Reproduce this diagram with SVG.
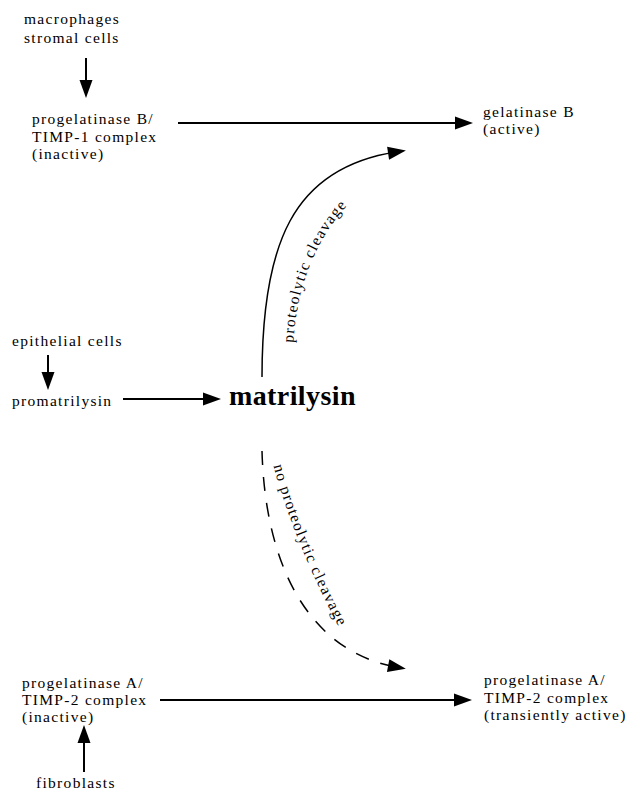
<svg xmlns="http://www.w3.org/2000/svg" width="628" height="794" viewBox="0 0 628 794">
<style>
text{font-family:"Liberation Serif","Times New Roman",serif;font-size:15.5px;letter-spacing:1.3px;fill:#000}
.big{font-size:28px;font-weight:bold;letter-spacing:0.4px}
.ln{fill:none;stroke:#000;stroke-width:2}
.cv{fill:none;stroke:#000;stroke-width:1.5}
.ds{stroke-dasharray:14 12}
</style>
<defs>
<marker id="ah" markerUnits="userSpaceOnUse" markerWidth="20" markerHeight="14" refX="8" refY="6.5" orient="auto" overflow="visible">
<path d="M0,0 L18,6.5 L0,13 z" fill="#000"/>
</marker>
<path id="p1" d="M293,347 C296,290 313,240 354,198"/>
<path id="p2" d="M272,460 C287,520 318,590 346,640"/>
</defs>
<g id="macrophages"><text x="24" y="24">macrophages</text><text x="24" y="43">stromal cells</text></g>
<g id="progelatinaseB"><text x="32" y="124">progelatinase B/</text><text x="32" y="141.5">TIMP-1 complex</text><text x="32" y="159">(inactive)</text></g>
<g id="gelatinaseB"><text x="483" y="117">gelatinase B</text><text x="483" y="134">(active)</text></g>
<g id="epithelial"><text x="12" y="346">epithelial cells</text></g>
<g id="promatrilysin"><text x="12" y="406">promatrilysin</text></g>
<g id="matrilysin"><text class="big" x="229" y="405">matrilysin</text></g>
<g id="progelatinaseA"><text x="22" y="688">progelatinase A/</text><text x="22" y="705">TIMP-2 complex</text><text x="22" y="722">(inactive)</text></g>
<g id="progelatinaseAactive"><text x="484" y="685">progelatinase A/</text><text x="484" y="702.5">TIMP-2 complex</text><text x="484" y="720">(transiently active)</text></g>
<g id="fibroblasts"><text x="36" y="788">fibroblasts</text></g>
<g id="connectors">
<path class="ln" d="M86,58 V88" marker-end="url(#ah)"/>
<path class="ln" d="M178,123 H463" marker-end="url(#ah)"/>
<path class="ln" d="M48,355 V380" marker-end="url(#ah)"/>
<path class="ln" d="M123,399 H211" marker-end="url(#ah)"/>
<path class="ln" d="M160,700 H462" marker-end="url(#ah)"/>
<path class="ln" d="M84,772 V735" marker-end="url(#ah)"/>
<path class="cv" d="M262,377 C262,245 292,168 396,152" marker-end="url(#ah)"/>
<path class="cv ds" d="M262,451 C265,560 305,650 396,667" marker-end="url(#ah)"/>
<text><textPath href="#p1" startOffset="4">proteolytic cleavage</textPath></text>
<text><textPath href="#p2" startOffset="6">no proteolytic cleavage</textPath></text>
</g>
</svg>
